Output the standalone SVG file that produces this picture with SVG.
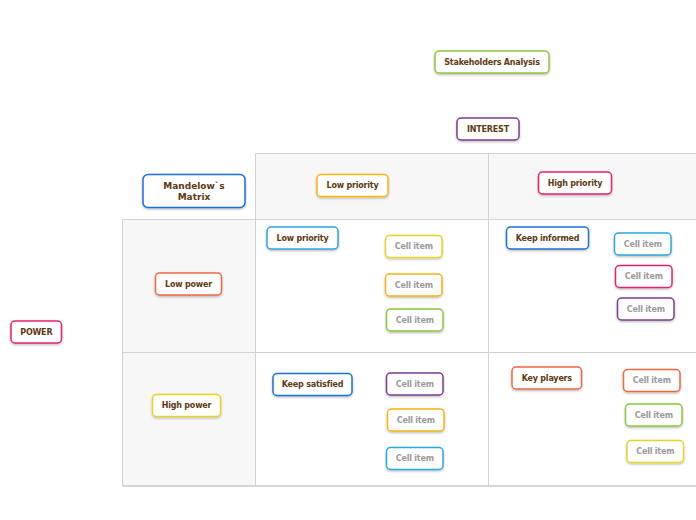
<svg xmlns="http://www.w3.org/2000/svg" width="696" height="520" viewBox="0 0 696 520">
<defs>
<filter id="sh" x="-20%" y="-30%" width="140%" height="170%">
<feDropShadow dx="0" dy="1.2" stdDeviation="0.9" flood-color="#000" flood-opacity="0.28"/>
</filter>
</defs>
<style>
.n rect{fill:#fff;stroke-width:1.5;filter:url(#sh)}
.n text{font-family:"DejaVu Sans",Verdana,sans-serif;font-weight:bold;font-size:8px;letter-spacing:-0.2px;fill:#5d3a12;text-anchor:middle;dominant-baseline:central}
.n text.c{fill:#9a9a9a}
.n text.m{font-size:9px;letter-spacing:0}
.g{stroke:#d2d2d2;stroke-width:1;fill:none}
.green{stroke:#8dc63f}.purple{stroke:#7b3f91}.blue{stroke:#1f6fdc}.amber{stroke:#f8b414}
.pink{stroke:#e8246f}.lblue{stroke:#2aa8e0}.yellow{stroke:#e6d428}.orange{stroke:#f06a3f}
</style>
<rect width="696" height="520" fill="#fff"/>
<g id="table">
<rect x="255.5" y="153.5" width="441" height="66" fill="#f7f7f7"/>
<rect x="122.5" y="219.5" width="133" height="266.5" fill="#f7f7f7"/>
<path class="g" d="M255.5 153.5H697M255.5 153.5V486M488.5 153.5V486M122.5 219.5H697M122.5 219.5V486M122.5 352.5H697"/>
<path d="M122.5 486H697" stroke="#d6d6d6" stroke-width="1.8" fill="none"/>
</g>
<g id="connectors"></g>
<g id="n-stakeholders" class="n"><rect class="green" x="435" y="51" width="114" height="22" rx="4"/><text x="492" y="62">Stakeholders Analysis</text></g>
<g id="n-interest" class="n"><rect class="purple" x="457" y="118" width="62" height="22" rx="4"/><text x="488" y="129">INTEREST</text></g>
<g id="n-mandelow" class="n"><rect class="blue" x="143" y="174.5" width="102" height="33" rx="5"/><text class="m" x="194" y="186">Mandelow`s</text><text class="m" x="194" y="197">Matrix</text></g>
<g id="n-lowpriority-h" class="n"><rect class="amber" x="317" y="174.5" width="71" height="22" rx="4"/><text x="352.5" y="185.5">Low priority</text></g>
<g id="n-highpriority" class="n"><rect class="pink" x="538.5" y="172" width="73" height="22" rx="4"/><text x="575" y="183">High priority</text></g>
<g id="n-lowpower" class="n"><rect class="orange" x="155.5" y="273" width="66" height="22" rx="4"/><text x="188.5" y="284">Low power</text></g>
<g id="n-power" class="n"><rect class="pink" x="11" y="321" width="50.5" height="22" rx="4"/><text x="36.3" y="332">POWER</text></g>
<g id="n-highpower" class="n"><rect class="yellow" x="152.5" y="394.5" width="68" height="22" rx="4"/><text x="186.5" y="405.5">High power</text></g>
<g id="n-lowpriority-c" class="n"><rect class="lblue" x="267" y="227" width="71" height="22" rx="4"/><text x="302.5" y="238">Low priority</text></g>
<g id="n-c11a" class="n"><rect class="yellow" x="385.5" y="235.5" width="56.5" height="22" rx="4"/><text class="c" x="413.8" y="246.5">Cell item</text></g>
<g id="n-c11b" class="n"><rect class="amber" x="385.5" y="274" width="56.5" height="22" rx="4"/><text class="c" x="413.8" y="285">Cell item</text></g>
<g id="n-c11c" class="n"><rect class="green" x="386.5" y="309" width="56.5" height="22" rx="4"/><text class="c" x="414.8" y="320">Cell item</text></g>
<g id="n-keepinformed" class="n"><rect class="blue" x="506.5" y="227" width="82" height="22" rx="4"/><text x="547.5" y="238">Keep informed</text></g>
<g id="n-c12a" class="n"><rect class="lblue" x="614.5" y="233" width="56.5" height="22" rx="4"/><text class="c" x="642.8" y="244">Cell item</text></g>
<g id="n-c12b" class="n"><rect class="pink" x="615.5" y="265.5" width="56.5" height="22" rx="4"/><text class="c" x="643.8" y="276.5">Cell item</text></g>
<g id="n-c12c" class="n"><rect class="purple" x="617.5" y="298" width="56.5" height="22" rx="4"/><text class="c" x="645.8" y="309">Cell item</text></g>
<g id="n-keepsatisfied" class="n"><rect class="blue" x="273" y="373.5" width="79" height="22" rx="4"/><text x="312.5" y="384.5">Keep satisfied</text></g>
<g id="n-c21a" class="n"><rect class="purple" x="386.5" y="373" width="56.5" height="22" rx="4"/><text class="c" x="414.8" y="384">Cell item</text></g>
<g id="n-c21b" class="n"><rect class="amber" x="387.5" y="409" width="56.5" height="22" rx="4"/><text class="c" x="415.8" y="420">Cell item</text></g>
<g id="n-c21c" class="n"><rect class="lblue" x="386.5" y="447.5" width="56.5" height="22" rx="4"/><text class="c" x="414.8" y="458.5">Cell item</text></g>
<g id="n-keyplayers" class="n"><rect class="orange" x="512" y="367" width="69.5" height="22" rx="4"/><text x="546.8" y="378">Key players</text></g>
<g id="n-c22a" class="n"><rect class="orange" x="623.5" y="369.5" width="56.5" height="22" rx="4"/><text class="c" x="651.8" y="380.5">Cell item</text></g>
<g id="n-c22b" class="n"><rect class="green" x="625.5" y="404" width="56.5" height="22" rx="4"/><text class="c" x="653.8" y="415">Cell item</text></g>
<g id="n-c22c" class="n"><rect class="yellow" x="627" y="440.5" width="56.5" height="22" rx="4"/><text class="c" x="655.3" y="451.5">Cell item</text></g>
</svg>
